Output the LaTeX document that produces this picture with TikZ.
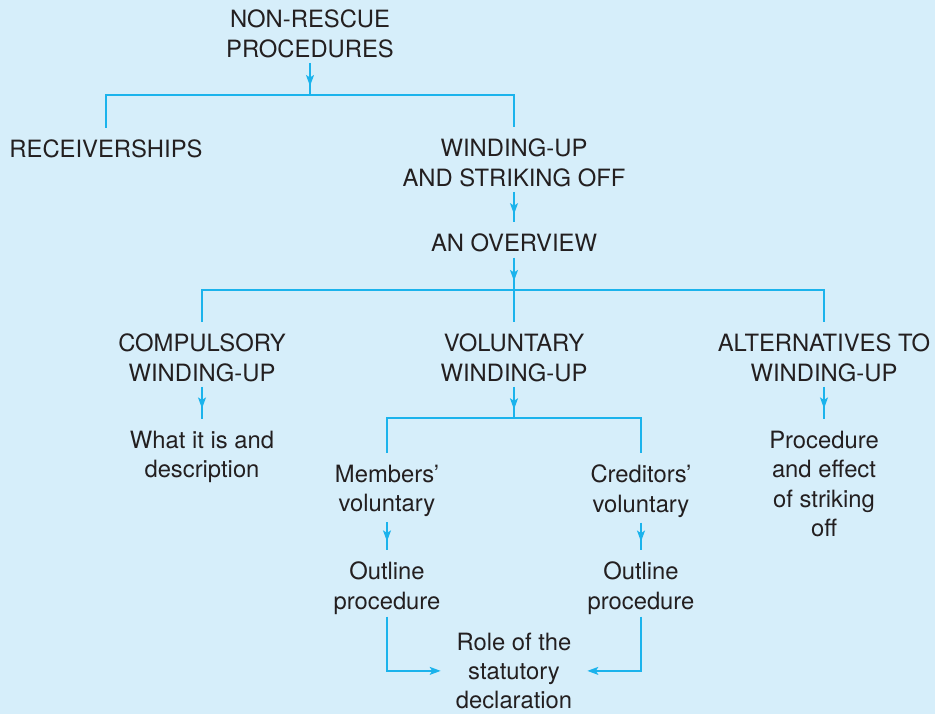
\documentclass[tikz,border=0pt]{standalone}
\usepackage{fontspec}
\setmainfont{TeX Gyre Heros}
\usepackage{tikz}
\usepackage{xcolor}
\usetikzlibrary{
    arrows.meta,
    decorations.markings,
    calc
}
\definecolor{bgblue}{HTML}{D6EEFA}
\definecolor{linkblue}{HTML}{1BB3EC}
\definecolor{inkgrey}{HTML}{231F20}

\begin{document}
\begin{tikzpicture}[x=1pt, y=-1pt,
    lbl/.style={anchor=north, align=center, inner sep=5pt, text=inkgrey,
        font=\fontsize{23.8}{29.3}\selectfont},
    link/.style={draw=linkblue, line width=1.3pt},
    tonorth/.style={shorten >=7pt},
    fromnorth/.style={shorten <=7pt},
    midarrow/.style={decoration={markings,
        mark=at position #1 with {\arrow[linkblue]{Stealth[length=11pt, width=8pt, inset=2.5pt]}}},
        postaction={decorate}},
    midarrow/.default=0.72,
    endarrow/.style={-{Stealth[length=11pt, width=8pt, inset=2.5pt]}, shorten <=-3pt, shorten >=10pt}]
                    \fill[bgblue] (0, 0) rectangle (935, 714);
                    \useasboundingbox (0, 0) rectangle (935, 714);
                    \node[lbl] (nonrescue) at (310, 5) {NON-RESCUE\\PROCEDURES};
                    \node[lbl] (rec) at (106, 135) {RECEIVERSHIPS};
                    \node[lbl] (wind) at (514, 134) {WINDING-UP\\AND STRIKING OFF};
                    \node[lbl] (overview) at (514, 229) {AN OVERVIEW};
                    \node[lbl] (comp) at (202, 329) {COMPULSORY\\WINDING-UP};
                    \node[lbl] (vol) at (514, 329) {VOLUNTARY\\WINDING-UP};
                    \node[lbl] (alt) at (824, 329) {ALTERNATIVES TO\\WINDING-UP};
                    \node[lbl] (what) at (202, 426) {What it is and\\description};
                    \node[lbl] (proc) at (824, 426) {Procedure\\and effect\\of striking\\off};
                    \node[lbl] (mem) at (387, 460) {Members'\\voluntary};
                    \node[lbl] (cred) at (641, 460) {Creditors'\\voluntary};
                    \node[lbl] (outm) at (387, 557) {Outline\\procedure};
                    \node[lbl] (outc) at (641, 557) {Outline\\procedure};
                    \node[lbl] (role) at (514, 627.5) {Role of the\\statutory\\declaration};
                    \coordinate (j1) at (310, 95);
                    \coordinate (j2) at (514, 290);
                    \coordinate (j3) at (514, 418);
                    \draw[link, midarrow] (nonrescue.south) -- (j1);
                    \draw[link, fromnorth, tonorth] (rec.north) |- (j1) -| (wind.north);
                    \draw[link, tonorth, midarrow=0.6] (wind.south) -- (overview.north);
                    \draw[link, midarrow] (overview.south) -- (j2);
                    \draw[link, fromnorth, tonorth] (comp.north) |- (j2) -| (alt.north);
                    \draw[link, tonorth] (j2) -- (vol.north);
                    \draw[link, tonorth, midarrow=0.55] (comp.south) -- (what.north);
                    \draw[link, midarrow] (vol.south) -- (j3);
                    \draw[link, tonorth, midarrow=0.55] (alt.south) -- (proc.north);
                    \draw[link, fromnorth, tonorth] (mem.north) |- (j3) -| (cred.north);
                    \draw[link, tonorth, midarrow=0.55] (mem.south) -- (outm.north);
                    \draw[link, tonorth, midarrow=0.55] (cred.south) -- (outc.north);
                    \draw[link, endarrow] (outm.south) |- (role.west);
                    \draw[link, endarrow] (outc.south) |- (role.east);
                \end{tikzpicture}
\end{document}
